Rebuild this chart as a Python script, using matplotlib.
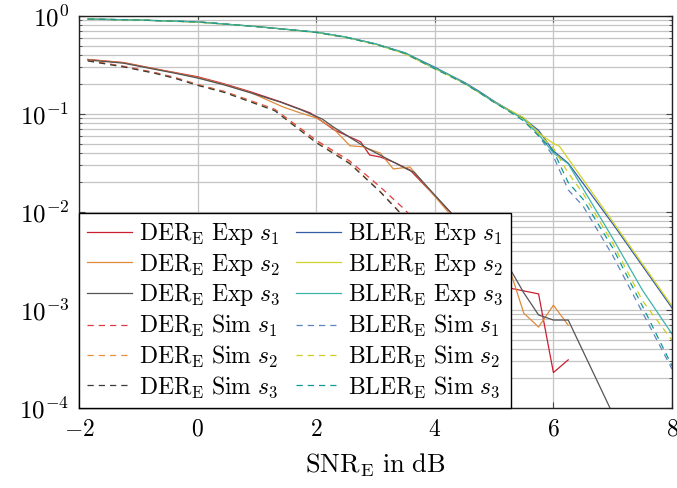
import matplotlib
matplotlib.use("Agg")
import matplotlib.pyplot as plt
from matplotlib.ticker import FixedLocator, FuncFormatter, LogLocator, NullFormatter
import numpy as np

plt.rcParams['mathtext.fontset'] = 'cm'
plt.rcParams['font.family'] = ['DejaVu Serif']

# ---------------- data ----------------
# DER experimental
der_exp_s1_x = [-1.85, -1.25, -0.75, -0.4, 0, 0.45, 0.9, 1.4, 1.9, 2.3, 2.75, 2.9, 3.08, 3.3, 3.58, 4.35, 5.25, 5.75, 6.0, 6.25]
der_exp_s1_y = [0.36, 0.335, 0.292, 0.266, 0.24, 0.203, 0.168, 0.133, 0.1026, 0.069, 0.052, 0.0382, 0.0364, 0.0324, 0.0269, 0.0088, 1.68e-3, 1.46e-3, 2.3e-4, 3.1e-4]

der_exp_s2_x = [-1.85, -1.25, -0.75, -0.4, 0, 0.45, 0.9, 1.44, 1.73, 2.0, 2.28, 2.57, 2.79, 3.08, 3.3, 3.58, 4.31, 5.25, 5.5, 5.75, 6.0, 6.25]
der_exp_s2_y = [0.36, 0.333, 0.29, 0.264, 0.236, 0.2, 0.165, 0.118, 0.1026, 0.0913, 0.072, 0.0473, 0.0463, 0.0399, 0.0275, 0.0288, 0.0087, 2.75e-3, 9.3e-4, 6.7e-4, 1.12e-3, 7.0e-4]

der_exp_s3_x = [-1.85, -1.25, -0.75, -0.4, 0, 0.45, 0.9, 1.4, 1.75, 2.1, 2.3, 2.85, 3.08, 3.55, 3.65, 4.35, 5.0, 5.25, 5.5, 5.75, 6.0, 6.25, 7.25]
der_exp_s3_y = [0.356, 0.33, 0.288, 0.262, 0.233, 0.198, 0.164, 0.132, 0.110, 0.089, 0.073, 0.045, 0.038, 0.027, 0.0255, 0.0087, 0.0038, 2.75e-3, 1.5e-3, 8.9e-4, 7.9e-4, 7.9e-4, 4.2e-5]

# DER simulated
der_sim_x = [-1.85, -1.22, -0.72, -0.38, 0, 0.45, 0.92, 1.3, 2.0, 2.57, 3.08, 3.45, 4.0, 4.5, 5.0]
der_sim_s1_y = [0.352, 0.305, 0.265, 0.236, 0.2, 0.17, 0.135, 0.112, 0.054, 0.033, 0.018, 0.0112, 0.0052, 2.4e-3, 1.1e-3]
der_sim_s2_y = [0.35, 0.302, 0.262, 0.233, 0.198, 0.168, 0.133, 0.110, 0.052, 0.0316, 0.0162, 0.0094, 4.2e-3, 1.9e-3, 8.3e-4]
der_sim_s3_y = [0.348, 0.300, 0.260, 0.231, 0.196, 0.166, 0.131, 0.108, 0.051, 0.031, 0.016, 0.0093, 4.2e-3, 1.9e-3, 8.3e-4]

# BLER experimental
bler_exp_s1_x = [-1.85, -1, 0, 1, 2, 2.5, 3, 3.5, 4, 4.25, 4.5, 4.75, 5, 5.25, 5.5, 5.75, 6.0, 6.25, 7.0, 8.0]
bler_exp_s1_y = [0.93, 0.91, 0.87, 0.78, 0.685, 0.61, 0.52, 0.42, 0.30, 0.25, 0.21, 0.17, 0.135, 0.11, 0.09, 0.068, 0.042, 0.0315, 7.6e-3, 1.05e-3]

bler_exp_s2_x = [-1.85, -1, 0, 1, 2, 2.5, 3, 3.5, 4, 4.25, 4.5, 4.75, 5, 5.25, 5.5, 5.75, 6.0, 6.1, 7.0, 8.0]
bler_exp_s2_y = [0.93, 0.91, 0.865, 0.78, 0.68, 0.605, 0.515, 0.41, 0.29, 0.245, 0.205, 0.165, 0.133, 0.11, 0.092, 0.064, 0.05, 0.047, 8.0e-3, 1.1e-3]

bler_exp_s3_x = [-1.85, -1, 0, 1, 2, 2.5, 3, 3.5, 4, 4.25, 4.5, 4.75, 5, 5.25, 5.5, 5.75, 6.0, 6.25, 7.0, 7.5, 8.0]
bler_exp_s3_y = [0.93, 0.91, 0.87, 0.78, 0.685, 0.61, 0.52, 0.42, 0.295, 0.25, 0.207, 0.167, 0.132, 0.108, 0.088, 0.062, 0.04, 0.031, 5.4e-3, 1.6e-3, 5.7e-4]

# BLER simulated
bler_sim_x = [-1.85, -1, 0, 1, 2, 2.5, 3, 3.5, 4, 4.25, 4.5, 4.75, 5, 5.25, 5.5, 5.75, 6.0, 6.25, 6.5, 7.0, 7.5, 8.0]
bler_sim_s1_y = [0.93, 0.91, 0.87, 0.78, 0.68, 0.605, 0.515, 0.415, 0.29, 0.245, 0.205, 0.166, 0.132, 0.107, 0.086, 0.06, 0.037, 0.0168, 0.0115, 3.6e-3, 9.5e-4, 2.5e-4]
bler_sim_s2_y = [0.93, 0.91, 0.868, 0.78, 0.68, 0.605, 0.515, 0.415, 0.29, 0.245, 0.205, 0.166, 0.132, 0.107, 0.087, 0.062, 0.045, 0.025, 0.0155, 4.8e-3, 1.25e-3, 4.9e-4]
bler_sim_s3_y = [0.93, 0.91, 0.87, 0.78, 0.68, 0.605, 0.515, 0.415, 0.29, 0.245, 0.205, 0.166, 0.132, 0.107, 0.085, 0.06, 0.042, 0.02, 0.0135, 4.3e-3, 1.1e-3, 2.7e-4]

x_ticks = [-2, 0, 2, 4, 6, 8]
y_ticks = [1e-4, 1e-3, 1e-2, 1e-1, 1e0]

labels_der = [r'$\mathrm{DER}_\mathrm{E}\ \mathrm{Exp}\ s_1$', r'$\mathrm{DER}_\mathrm{E}\ \mathrm{Exp}\ s_2$',
              r'$\mathrm{DER}_\mathrm{E}\ \mathrm{Exp}\ s_3$', r'$\mathrm{DER}_\mathrm{E}\ \mathrm{Sim}\ s_1$',
              r'$\mathrm{DER}_\mathrm{E}\ \mathrm{Sim}\ s_2$', r'$\mathrm{DER}_\mathrm{E}\ \mathrm{Sim}\ s_3$']
labels_bler = [r'$\mathrm{BLER}_\mathrm{E}\ \mathrm{Exp}\ s_1$', r'$\mathrm{BLER}_\mathrm{E}\ \mathrm{Exp}\ s_2$',
               r'$\mathrm{BLER}_\mathrm{E}\ \mathrm{Exp}\ s_3$', r'$\mathrm{BLER}_\mathrm{E}\ \mathrm{Sim}\ s_1$',
               r'$\mathrm{BLER}_\mathrm{E}\ \mathrm{Sim}\ s_2$', r'$\mathrm{BLER}_\mathrm{E}\ \mathrm{Sim}\ s_3$']

# ---------------- plot ----------------
fig = plt.figure(figsize=(6.77, 4.88), dpi=100)
ax = fig.add_axes([79/677, 1-408/488, (672-79)/677, (408-16)/488])

lw = 0.9
dash = (0, (5, 4))
c_red, c_orange, c_gray = '#c8202f', '#e08a3c', '#555555'
c_red_s, c_orange_s, c_gray_s = '#dd3a44', '#e8903a', '#3a3a3a'
c_blue, c_yellow, c_teal = '#345da8', '#d2d22a', '#3fb3aa'
c_blue_s, c_yellow_s, c_teal_s = '#5f84c2', '#cccc22', '#119a94'

h = []
h += ax.plot(der_exp_s1_x, der_exp_s1_y, color=c_red, lw=lw)
h += ax.plot(der_exp_s2_x, der_exp_s2_y, color=c_orange, lw=lw)
h += ax.plot(der_exp_s3_x, der_exp_s3_y, color=c_gray, lw=lw)
h += ax.plot(der_sim_x, der_sim_s1_y, color=c_red_s, lw=lw, ls=dash)
h += ax.plot(der_sim_x, der_sim_s2_y, color=c_orange_s, lw=lw, ls=dash)
h += ax.plot(der_sim_x, der_sim_s3_y, color=c_gray_s, lw=lw, ls=dash)
h += ax.plot(bler_exp_s1_x, bler_exp_s1_y, color=c_blue, lw=lw)
h += ax.plot(bler_exp_s2_x, bler_exp_s2_y, color=c_yellow, lw=lw)
h += ax.plot(bler_exp_s3_x, bler_exp_s3_y, color=c_teal, lw=lw)
h += ax.plot(bler_sim_x, bler_sim_s1_y, color=c_blue_s, lw=lw, ls=dash)
h += ax.plot(bler_sim_x, bler_sim_s2_y, color=c_yellow_s, lw=lw, ls=dash)
h += ax.plot(bler_sim_x, bler_sim_s3_y, color=c_teal_s, lw=lw, ls=dash)

ax.set_yscale('log')
ax.set_xlim(-2, 8)
ax.set_ylim(1e-4, 1e0)
ax.xaxis.set_major_locator(FixedLocator(x_ticks))
ax.xaxis.set_major_formatter(FuncFormatter(lambda v, p: r'$%d$' % v if v >= 0 else r'$-%d$' % (-v)))
ax.yaxis.set_major_locator(FixedLocator(y_ticks))
ax.yaxis.set_major_formatter(FuncFormatter(lambda v, p: r'$10^{%d}$' % int(round(np.log10(v)))))
ax.yaxis.set_minor_locator(LogLocator(base=10, subs=np.arange(2, 10)))
ax.yaxis.set_minor_formatter(NullFormatter())

ax.grid(True, which='major', color='#c4c4c4', lw=0.9)
ax.grid(True, which='minor', axis='y', color='#c4c4c4', lw=0.9)
ax.set_axisbelow(True)
ax.tick_params(which='both', direction='in', top=True, right=True, color='#444444')
ax.tick_params(axis='x', labelsize=17, pad=7)
ax.tick_params(axis='y', labelsize=18, pad=7)
ax.tick_params(which='major', length=4, width=0.8)
ax.tick_params(which='minor', length=2.5, width=0.6)
for s in ax.spines.values():
    s.set_linewidth(1.0)
    s.set_color('#222222')

ax.set_xlabel(r'$\mathrm{SNR}_\mathrm{E}\ \mathrm{in\ dB}$', fontsize=19, labelpad=8)

leg = ax.legend(h, labels_der + labels_bler, ncol=2, loc='lower left', fontsize=17,
                frameon=True, fancybox=False, framealpha=1, edgecolor='black',
                borderaxespad=0, handlelength=1.9, handletextpad=0.3,
                columnspacing=0.65, labelspacing=0.2, borderpad=0.35)
leg.get_frame().set_linewidth(1.0)

fig.savefig('out.png', dpi=100)
